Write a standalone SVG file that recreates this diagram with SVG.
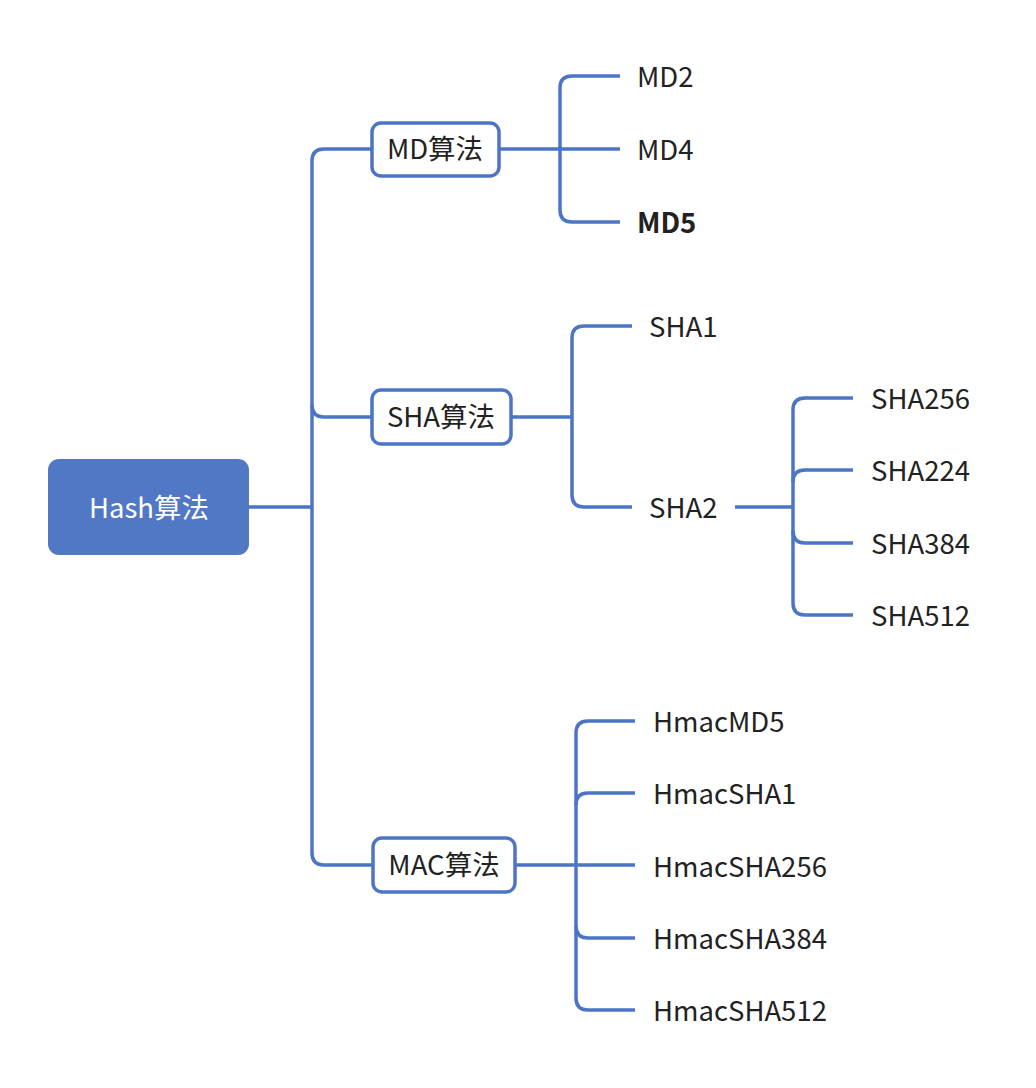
<svg xmlns="http://www.w3.org/2000/svg" width="1036" height="1088" viewBox="0 0 1036 1088">
<style>
.ln{fill:none;stroke:#4c75c6;stroke-width:3.5;stroke-linecap:butt}
.box{fill:#ffffff;stroke:#4c75c6;stroke-width:3.5}
.t{font-family:"Noto Sans CJK SC","Noto Sans",sans-serif;font-size:27.5px;fill:#222222}
.c{text-anchor:middle}
</style>
<rect width="1036" height="1088" fill="#ffffff"/>
<g id="connectors">
<path class="ln" d="M249,507 H312"/>
<path class="ln" d="M372,149 H324 Q312,149 312,161 V853 Q312,865 324,865 H372"/>
<path class="ln" d="M312,405 Q312,417 324,417 H372"/>
<path class="ln" d="M499,149 H620"/>
<path class="ln" d="M620,76 H572 Q560,76 560,88 V210 Q560,222 572,222 H620"/>
<path class="ln" d="M511,417 H572"/>
<path class="ln" d="M632,326 H584 Q572,326 572,338 V495 Q572,507 584,507 H632"/>
<path class="ln" d="M735,507 H793"/>
<path class="ln" d="M853,398 H805 Q793,398 793,410 V603 Q793,615 805,615 H853"/>
<path class="ln" d="M793,482 Q793,470 805,470 H853"/>
<path class="ln" d="M793,531 Q793,543 805,543 H853"/>
<path class="ln" d="M515,865 H635"/>
<path class="ln" d="M635,721 H588 Q576,721 576,733 V998 Q576,1010 588,1010 H635"/>
<path class="ln" d="M576,805 Q576,793 588,793 H635"/>
<path class="ln" d="M576,926 Q576,938 588,938 H635"/>
</g>
<g id="root">
<rect x="48" y="459" width="201" height="96" rx="11" fill="#5078c4"/>
<text class="t c" x="149" y="518" style="fill:#ffffff">Hash算法</text>
</g>
<g id="md">
<rect class="box" x="372" y="123" width="127" height="53" rx="9"/>
<text class="t c" x="435" y="159">MD算法</text>
</g>
<g id="sha">
<rect class="box" x="372" y="390" width="139" height="54" rx="9"/>
<text class="t c" x="441" y="427">SHA算法</text>
</g>
<g id="mac">
<rect class="box" x="373" y="838" width="142" height="54" rx="9"/>
<text class="t c" x="444" y="875">MAC算法</text>
</g>
<g id="md2"><text class="t" x="637" y="87">MD2</text></g>
<g id="md4"><text class="t" x="637" y="160">MD4</text></g>
<g id="md5"><text class="t" x="637" y="233" font-weight="bold">MD5</text></g>
<g id="sha1"><text class="t" x="649" y="337">SHA1</text></g>
<g id="sha2"><text class="t" x="649" y="518">SHA2</text></g>
<g id="sha256"><text class="t" x="871" y="409">SHA256</text></g>
<g id="sha224"><text class="t" x="871" y="481">SHA224</text></g>
<g id="sha384"><text class="t" x="871" y="554">SHA384</text></g>
<g id="sha512"><text class="t" x="871" y="626">SHA512</text></g>
<g id="hmacmd5"><text class="t" x="653" y="732">HmacMD5</text></g>
<g id="hmacsha1"><text class="t" x="653" y="804">HmacSHA1</text></g>
<g id="hmacsha256"><text class="t" x="653" y="877">HmacSHA256</text></g>
<g id="hmacsha384"><text class="t" x="653" y="949">HmacSHA384</text></g>
<g id="hmacsha512"><text class="t" x="653" y="1021">HmacSHA512</text></g>
</svg>
